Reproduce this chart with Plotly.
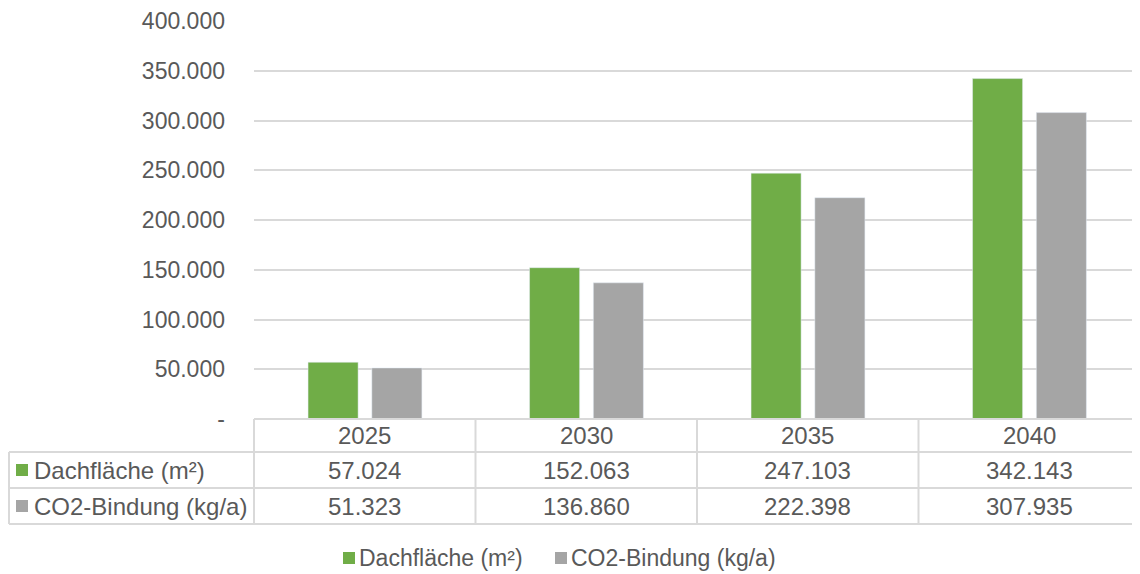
import plotly.graph_objects as go

years = ["2025", "2030", "2035", "2040"]
dach = [57024, 152063, 247103, 342143]
co2 = [51323, 136860, 222398, 307935]
series_names = ["Dachfläche (m²)", "CO2-Bindung (kg/a)"]
tick_vals = [0, 50000, 100000, 150000, 200000, 250000, 300000, 350000, 400000]

GREEN = "#70AD47"
GREY = "#A5A5A5"
TXT = "#595959"
LINE = "#D9D9D9"
FONT = "Liberation Sans, Arial, sans-serif"
FS = 23
FS_TABLE = 24
OFF = 8                # page body margin
W, H = 1140 - OFF, 574 - OFF

def fmt(v):
    return "-" if v == 0 else f"{v:,}".replace(",", ".")

def px(x):
    return (x - OFF) / W

def py(y):
    return 1 - (y - OFF) / H

x0, x1 = 254, 1140
y_top, y_zero = 21, 419
rows = [419, 452, 488, 524]

fig = go.Figure()
fig.add_trace(go.Bar(x=years, y=dach, name=series_names[0], marker_color=GREEN,
                     width=0.226, offset=-0.256, showlegend=False))
fig.add_trace(go.Bar(x=years, y=co2, name=series_names[1], marker_color=GREY,
                     width=0.226, offset=0.032, showlegend=False))

shapes = []
def line(xa, ya, xb, yb):
    shapes.append(dict(type="line", xref="paper", yref="paper",
                       x0=px(xa), y0=py(ya), x1=px(xb), y1=py(yb),
                       line=dict(color=LINE, width=2)))

ncol = len(years)
cw = (x1 - x0) / ncol
line(x0, rows[0], x1, rows[0])
for r in rows[1:]:
    line(9, r, x1, r)
line(9, rows[1], 9, rows[3])
for i in range(ncol):
    xv = x0 + i * cw
    line(xv, rows[0], xv, rows[3])

annotations = []
def txt(x, y, s, anchor="center", size=FS):
    annotations.append(dict(x=px(x), y=py(y), xref="paper", yref="paper", text=s,
                            showarrow=False, xanchor=anchor, yanchor="middle",
                            font=dict(family=FONT, size=size, color=TXT)))

def square(xl, yc, col):
    shapes.append(dict(type="rect", xref="paper", yref="paper",
                       x0=px(xl), x1=px(xl + 12), y0=py(yc + 6), y1=py(yc - 6),
                       fillcolor=col, line=dict(width=0)))

for i, yr in enumerate(years):
    cx = x0 + (i + 0.5) * cw
    txt(cx, (rows[0] + rows[1]) / 2, yr, size=FS_TABLE)
    txt(cx, (rows[1] + rows[2]) / 2, fmt(dach[i]), size=FS_TABLE)
    txt(cx, (rows[2] + rows[3]) / 2, fmt(co2[i]), size=FS_TABLE)

colors = [GREEN, GREY]
for k, nm in enumerate(series_names):
    yc = (rows[k + 1] + rows[k + 2]) / 2
    square(16, yc, colors[k])
    txt(32, yc, nm, anchor="left", size=FS_TABLE)

# bottom legend
leg_y = 558
leg_x = [343, 555]
for k, nm in enumerate(series_names):
    square(leg_x[k], leg_y, colors[k])
    txt(leg_x[k] + 14, leg_y, nm, anchor="left")

fig.update_layout(
    width=W, height=H,
    margin=dict(l=0, r=0, t=0, b=0, autoexpand=False),
    paper_bgcolor="white", plot_bgcolor="white",
    showlegend=False,
    font=dict(family=FONT, size=FS, color=TXT),
    xaxis=dict(domain=[px(x0), px(x1)], showticklabels=False, showgrid=False,
               zeroline=False, showline=False, ticks="", automargin=False),
    yaxis=dict(domain=[py(y_zero), py(y_top)], range=[0, 400000],
               tickvals=tick_vals, ticktext=[fmt(v) for v in tick_vals],
               showgrid=True, gridcolor=LINE, gridwidth=1.5, zeroline=False,
               ticks="", ticklabelstandoff=28, automargin=False,
               tickfont=dict(size=FS, color=TXT)),
    shapes=shapes, annotations=annotations,
)

fig.write_html("out.html")
